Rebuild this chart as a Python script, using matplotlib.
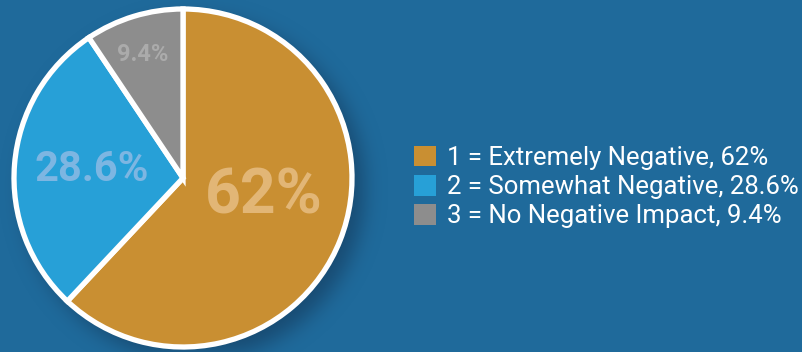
import numpy as np
import matplotlib.pyplot as plt
from matplotlib.patches import Patch

# survey answers
labels = ['1 = Extremely Negative, 62%', '2 = Somewhat Negative, 28.6%',
          '3 = No Negative Impact, 9.4%']
values = [62, 28.6, 9.4]
pct_text = ['62%', '28.6%', '9.4%']

colors = ['#c98f32', '#27a0d7', '#8d8d8d']
label_colors = ['#e2b676', '#7db6e2', '#ababab']
label_sizes = [45, 30, 17]
# label offsets relative to the pie centre, in radius units
label_offsets = [(0.48, -0.11), (-0.54, 0.05), (-0.24, 0.73)]

bg = '#1f6a9b'
font = ['Roboto', 'DejaVu Sans']

W, H = 802, 352
fig = plt.figure(figsize=(W / 100, H / 100), dpi=100, facecolor=bg)
ax = fig.add_axes([0, 0, 1, 1])
ax.set_facecolor(bg)

cx, cy, r = 183, 174, 169

# soft drop shadow under the pie
yy, xx = np.mgrid[0:H, 0:W]
sx, sy = cx + 10, (H - cy) + 10
disk = (((xx - sx) ** 2 + (yy - sy) ** 2) <= (r + 2) ** 2).astype(float)
k = np.exp(-0.5 * (np.arange(-30, 31) / 10.0) ** 2)
k /= k.sum()
blur = np.apply_along_axis(lambda v: np.convolve(v, k, mode='same'), 1, disk)
blur = np.apply_along_axis(lambda v: np.convolve(v, k, mode='same'), 0, blur)
shadow = np.zeros((H, W, 4))
shadow[..., :3] = np.array([0x14, 0x3a, 0x5c]) / 255
shadow[..., 3] = blur * 0.65
ax.imshow(shadow, extent=(0, W, 0, H), origin='upper', zorder=0)

wedges, _ = ax.pie(values, colors=colors, startangle=90, counterclock=False,
                   center=(cx, cy), radius=r,
                   wedgeprops=dict(edgecolor='white', linewidth=3.8))
for w in wedges:
    w.set_zorder(2)

for txt, col, size, (ox, oy) in zip(pct_text, label_colors, label_sizes, label_offsets):
    ax.text(cx + ox * r, cy + oy * r, txt, color=col, fontsize=size,
            fontweight='bold', family=font, ha='center', va='center', zorder=3)

handles = [Patch(facecolor=c, edgecolor='none') for c in colors]
leg = ax.legend(handles, labels, loc='center left', bbox_to_anchor=(414 / W, 1 - 187 / H),
                frameon=False, prop=dict(family=font, size=18.5),
                handlelength=0.86, handleheight=0.86, handletextpad=0.42,
                labelspacing=0.2, borderpad=0, borderaxespad=0)
for t in leg.get_texts():
    t.set_color('white')

ax.set_xlim(0, W)
ax.set_ylim(0, H)
ax.set_aspect('equal')
ax.axis('off')

fig.savefig('out.png', dpi=100, facecolor=bg)
